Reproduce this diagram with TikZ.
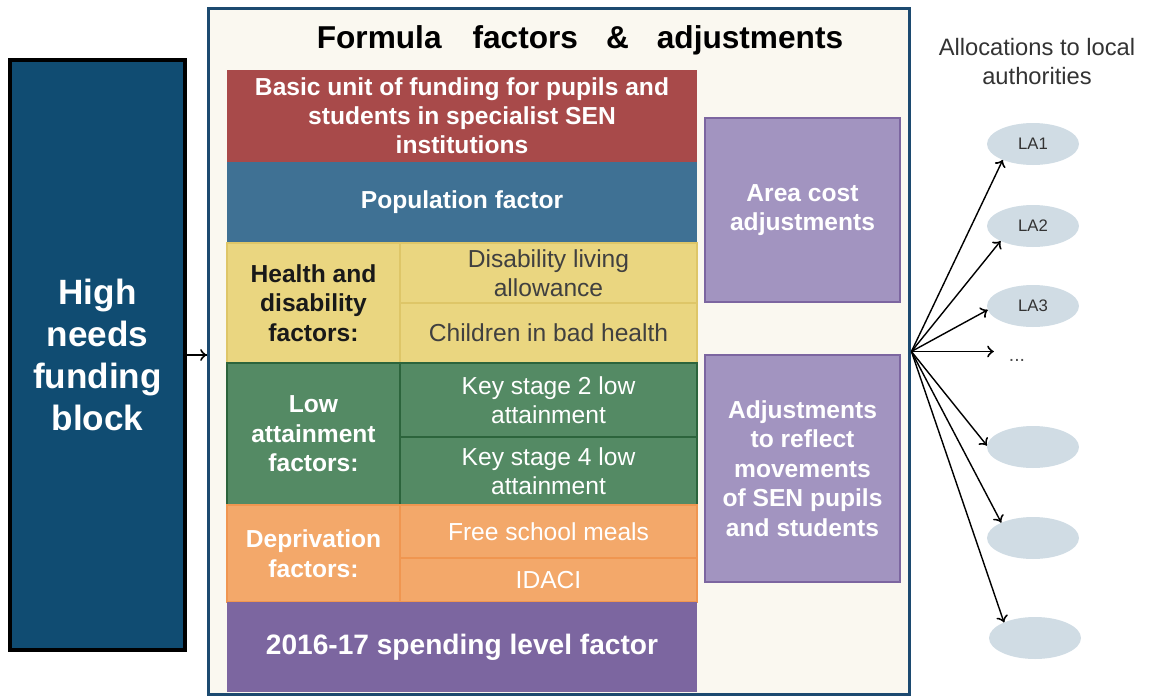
\documentclass[tikz,border=0pt]{standalone}
\usepackage{fontspec}
\setmainfont{Liberation Sans}
\usepackage{tikz}
\usetikzlibrary{arrows}
\usetikzlibrary{decorations.markings}
\usetikzlibrary{shapes.geometric}
\definecolor{blockblue}{RGB}{16,76,114}
\definecolor{framefill}{RGB}{250,248,240}
\definecolor{frameline}{RGB}{28,74,112}
\definecolor{redfill}{RGB}{168,74,74}
\definecolor{popfill}{RGB}{63,113,148}
\definecolor{yellowfill}{RGB}{234,214,128}
\definecolor{yellowline}{RGB}{222,198,104}
\definecolor{greenfill}{RGB}{84,138,100}
\definecolor{greenline}{RGB}{44,100,60}
\definecolor{orangefill}{RGB}{243,168,106}
\definecolor{orangeline}{RGB}{240,150,80}
\definecolor{purplefill}{RGB}{124,102,160}
\definecolor{lilacfill}{RGB}{162,148,192}
\definecolor{lafill}{RGB}{208,220,228}
\tikzset{->/.style = {line width = 0.8pt,
                      decoration={markings,
                                  mark=at position 1 with {\arrow[scale=1.4]{to}}},
                      postaction={decorate}}}
\tikzset{band/.style = {rectangle, inner sep = 0, minimum width = 9.4cm, align = center,
                        text = white, font = \fontsize{14}{16.6}\selectfont\bfseries}}
\tikzset{side/.style = {rectangle, inner sep = 0, minimum width = 3.46cm, align = center,
                        font = \fontsize{14}{16.8}\selectfont\bfseries}}
\tikzset{cell/.style = {rectangle, inner sep = 0, minimum width = 5.94cm, align = center,
                        font = \fontsize{14}{16.8}\selectfont}}
\tikzset{adj/.style = {rectangle, fill = lilacfill, draw = purplefill, line width = 1.2pt,
                       inner sep = 0, minimum width = 3.9cm, align = center, text = white,
                       font = \fontsize{14}{16.8}\selectfont\bfseries}}
\tikzset{la/.style = {ellipse, fill = lafill, inner sep = 0, minimum width = 1.84cm,
                      minimum height = 0.84cm, text = black!80,
                      font = \fontsize{9.5}{11}\selectfont}}

\begin{document}
\begin{tikzpicture}[x=0.02cm, y=-0.02cm]
      \useasboundingbox (0, 0) rectangle (1150, 697);

      \node (hnf) at (97.5, 355) [rectangle, fill = blockblue, draw = black, line width = 1.8pt,
            minimum width = 3.5cm, minimum height = 11.8cm, align = center, text = white,
            font = \fontsize{20}{24}\selectfont\bfseries] {High\\needs\\funding\\block};

      \node (frame) at (559, 351.5) [rectangle, fill = framefill, draw = frameline, line width = 1.7pt,
            minimum width = 14.04cm, minimum height = 13.74cm] {};
      \node (title) at (580, 40) [font = \fontsize{18}{20}\selectfont\bfseries]
            {Formula\hspace{0.62cm}factors\hspace{0.56cm}\&\hspace{0.56cm}adjustments};

      \node (basic) at (462, 116) [band, fill = redfill, minimum height = 1.84cm]
            {Basic unit of funding for pupils and\\students in specialist SEN\\institutions};
      \node (pop) at (462, 202.5) [band, fill = popfill, minimum height = 1.62cm] {Population factor};

      \node (health) at (313.5, 303) [side, fill = yellowfill, draw = yellowline, line width = 1pt,
            minimum height = 2.4cm, text = black!90] {Health and\\disability\\factors:};
      \node (dla) at (548.5, 273) [cell, fill = yellowfill, draw = yellowline, line width = 1pt,
            minimum height = 1.2cm, text = black!75] {Disability living\\allowance};
      \node (badhealth) at (548.5, 333) [cell, fill = yellowfill, draw = yellowline, line width = 1pt,
            minimum height = 1.2cm, text = black!75] {Children in bad health};

      \node (low) at (313.5, 434) [side, fill = greenfill, draw = greenline, line width = 1.4pt,
            minimum height = 2.84cm, text = white] {Low\\attainment\\factors:};
      \node (ks2) at (548.5, 400) [cell, fill = greenfill, draw = greenline, line width = 1.4pt,
            minimum height = 1.48cm, text = white] {Key stage 2 low\\attainment};
      \node (ks4) at (548.5, 471) [cell, fill = greenfill, draw = greenline, line width = 1.4pt,
            minimum height = 1.36cm, text = white] {Key stage 4 low\\attainment};

      \node (depr) at (313.5, 553.5) [side, fill = orangefill, draw = orangeline, line width = 1pt,
            minimum height = 1.94cm, text = white] {Deprivation\\factors:};
      \node (fsm) at (548.5, 531.5) [cell, fill = orangefill, draw = orangeline, line width = 1pt,
            minimum height = 1.06cm, text = white] {Free school meals};
      \node (idaci) at (548.5, 580) [cell, fill = orangefill, draw = orangeline, line width = 1pt,
            minimum height = 0.88cm, text = white] {IDACI};

      \node (spend) at (462, 647) [band, fill = purplefill, minimum height = 1.8cm,
            font = \fontsize{16}{19}\selectfont\bfseries] {2016-17 spending level factor};

      \node (area) at (802.5, 210) [adj, minimum height = 3.68cm] {Area cost\\adjustments};
      \node (move) at (802.5, 468.5) [adj, minimum height = 4.54cm]
            {Adjustments\\to reflect\\movements\\of SEN pupils\\and students};

      \node (alloc) at (1037, 62) [align = center, text = black!80, font = \fontsize{13.5}{16.5}\selectfont]
            {Allocations to local\\authorities};

      \node (la1) at (1033, 144) [la] {LA1};
      \node (la2) at (1033, 226) [la] {LA2};
      \node (la3) at (1033, 306) [la] {LA3};
      \node (dots) at (1017, 360) [inner xsep = 0.3cm, text = black!70, font = \fontsize{11}{12}\selectfont] {...};
      \node (la4) at (1033, 447) [la] {};
      \node (la5) at (1033, 538) [la] {};
      \node (la6) at (1035, 638) [la] {};

      \draw [->] (hnf.east) -- (hnf.east -| frame.west);

      \draw [->] (frame.east) -- (la1.208);
      \draw [->] (frame.east) -- (la2.205);
      \draw [->] (frame.east) -- (la3.185);
      \draw [->] (frame.east) -- (frame.east -| dots.west);
      \draw [->] (frame.east) -- (la4.178);
      \draw [->] (frame.east) -- (la5.154);
      \draw [->] (frame.east) -- (la6.153);
    \end{tikzpicture}
\end{document}
